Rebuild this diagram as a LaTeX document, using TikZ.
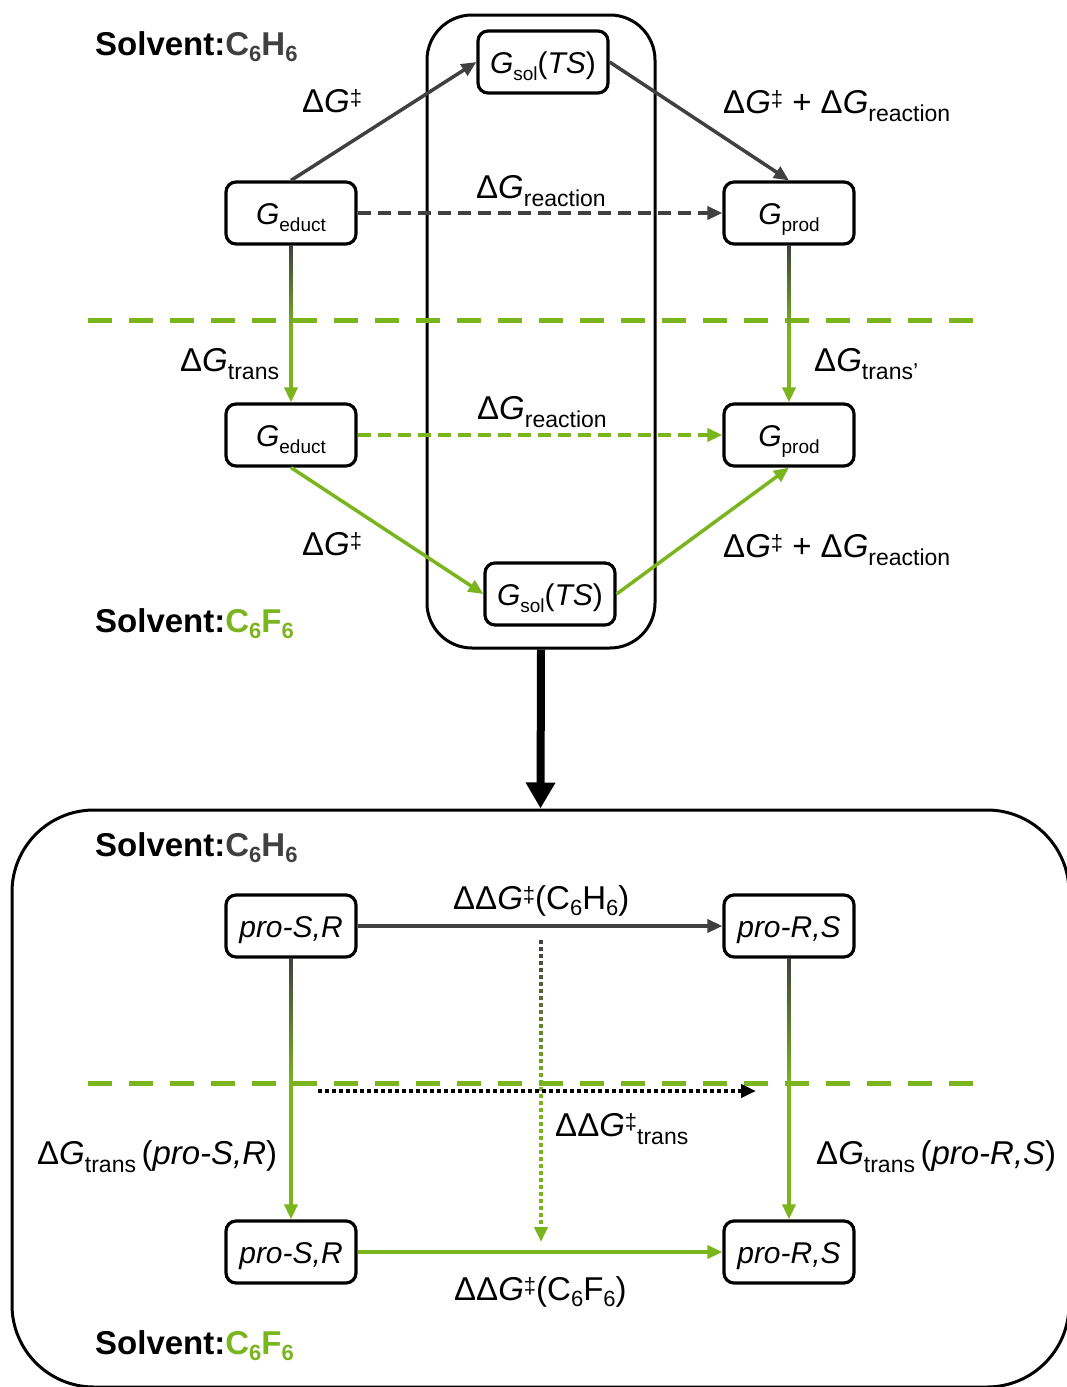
\documentclass[tikz,border=0pt]{standalone}
\usepackage{fontspec}
\setmainfont{Liberation Sans}
\usetikzlibrary{arrows.meta,calc}
\definecolor{dgray}{RGB}{64,64,64}
\definecolor{lgreen}{RGB}{122,181,29}
\newcommand{\Gi}{\textit{G}}
\newcommand{\lsub}[1]{\raisebox{-8pt}{\fontsize{23}{23}\selectfont #1}}
\newcommand{\bsub}[1]{\raisebox{-7pt}{\fontsize{19}{19}\selectfont #1}}
\newcommand{\ldag}{\raisebox{7pt}{\fontsize{22}{22}\selectfont ‡}}
\newcommand{\fsub}[1]{\raisebox{-6pt}{\fontsize{22}{22}\selectfont #1}}
\newcommand{\ssub}[1]{\raisebox{-6pt}{\fontsize{22}{22}\selectfont\bfseries #1}}
\tikzset{
  box/.style={draw=black, line width=3.2pt, rounded corners=10pt, minimum width=130pt, minimum height=62pt, inner sep=0pt, text height=26pt, text depth=4pt, font=\fontsize{30}{36}\selectfont, fill=white},
  lab/.style={inner sep=0pt, anchor=base west, font=\fontsize{33}{40}\selectfont},
  solv/.style={inner sep=0pt, anchor=base west, font=\fontsize{33}{40}\selectfont\bfseries},
  tipA/.style={-{Triangle[length=15pt,width=13pt]}},
  darr/.style={draw=dgray, color=dgray, line width=3.5pt, tipA},
  garr/.style={draw=lgreen, color=lgreen, line width=3.5pt, tipA},
  dsh/.style={dash pattern=on 13pt off 7pt},
  gdash/.style={draw=lgreen, line width=5pt, dash pattern=on 24pt off 17pt},
  dotl/.style={line width=4pt, dash pattern=on 3.5pt off 3.5pt},
  frm/.style={draw=black, line width=3pt, inner sep=0pt},
}
\begin{document}
\begin{tikzpicture}[x=1pt,y=-1pt]
\useasboundingbox (0,0) rectangle (1067,1387);
% frames
\node[frm, rounded corners=45pt, minimum width=228pt, minimum height=633pt] (frame) at (541,331.5) {};
\node[frm, rounded corners=82pt, minimum width=1057pt, minimum height=577pt] (bigframe) at (540.5,1098.5) {};
\draw[line width=8pt, -{Triangle[length=26pt,width=28pt]}] (frame.south) -- (bigframe.north);
% solvent separators
\coordinate (dl1) at (88,320); \coordinate (dr1) at (978,320);
\coordinate (dl2) at (88,1083); \coordinate (dr2) at (978,1083);
\draw[gdash] (dl1) -- (dr1);
\draw[gdash] (dl2) -- (dr2);
% upper nodes
\node[box] (ts1) at (543,62) {\Gi\bsub{sol}(\textit{TS})};
\node[box] (e1) at (291,213) {\Gi\bsub{educt}};
\node[box] (p1) at (789,213) {\Gi\bsub{prod}};
\node[box] (e2) at (291,435) {\Gi\bsub{educt}};
\node[box] (p2) at (789,435) {\Gi\bsub{prod}};
\node[box] (ts2) at (550,594) {\Gi\bsub{sol}(\textit{TS})};
% upper connectors
\draw[darr] (e1.north) -- (ts1.west);
\draw[darr] (ts1.east) -- (p1.north);
\draw[darr, dsh] (e1) -- (p1);
\draw[garr] (e1) -- (e2);
\shade[top color=dgray, bottom color=lgreen] ($(e1.south)+(-1.75,0)$) rectangle ($(e1.south)+(1.75,85)$);
\draw[garr] (p1) -- (p2);
\shade[top color=dgray, bottom color=lgreen] ($(p1.south)+(-1.75,0)$) rectangle ($(p1.south)+(1.75,85)$);
\draw[garr, dsh] (e2) -- (p2);
\draw[garr] (e2.south) -- (ts2.west);
\draw[garr] (ts2.east) -- (p2.south);
% upper labels
\node[solv] (s1) at (95,55) {Solvent:\textcolor{dgray}{C\ssub{6}H\ssub{6}}};
\node[solv] (s2) at (95,632) {Solvent:\textcolor{lgreen}{C\ssub{6}F\ssub{6}}};
\node[lab] (l1) at (302,112) {Δ\Gi\ldag};
\node[lab] (l2) at (723,113) {Δ\Gi\ldag{} + Δ\Gi\lsub{reaction}};
\node[lab] (l3) at (476,198) {Δ\Gi\lsub{reaction}};
\node[lab] (l4) at (180,371) {Δ\Gi\lsub{trans}};
\node[lab] (l5) at (477,419) {Δ\Gi\lsub{reaction}};
\node[lab] (l6) at (814,371) {Δ\Gi\lsub{trans’}};
\node[lab] (l7) at (302,555) {Δ\Gi\ldag};
\node[lab] (l8) at (723,557) {Δ\Gi\ldag{} + Δ\Gi\lsub{reaction}};
% lower nodes
\node[box] (sr1) at (291,926) {\textit{pro-S,R}};
\node[box] (rs1) at (789,926) {\textit{pro-R,S}};
\node[box] (sr2) at (291,1252) {\textit{pro-S,R}};
\node[box] (rs2) at (789,1252) {\textit{pro-R,S}};
% lower connectors
\draw[darr] (sr1) -- (rs1);
\draw[garr] (sr2) -- (rs2);
\draw[garr] (sr1) -- (sr2);
\shade[top color=dgray, bottom color=lgreen] ($(sr1.south)+(-1.75,0)$) rectangle ($(sr1.south)+(1.75,125)$);
\draw[garr] (rs1) -- (rs2);
\shade[top color=dgray, bottom color=lgreen] ($(rs1.south)+(-1.75,0)$) rectangle ($(rs1.south)+(1.75,125)$);
\coordinate (vt) at (541,940); \coordinate (vb) at (541,1242);
\draw[dotl, lgreen, tipA] (vt) -- (vb);
\foreach \i in {0,...,20} {
  \pgfmathsetmacro{\op}{1-\i/21}
  \draw[dotl, dgray, opacity=\op] ($(vt)+(0,7*\i)$) -- ++(0,7);
}
\coordinate (hl) at (318,1091); \coordinate (hr) at (756,1091);
\draw[dotl, black, tipA] (hl) -- (hr);
% lower labels
\node[solv] (s3) at (95,856) {Solvent:\textcolor{dgray}{C\ssub{6}H\ssub{6}}};
\node[solv] (s4) at (95,1354) {Solvent:\textcolor{lgreen}{C\ssub{6}F\ssub{6}}};
\node[lab] (b1) at (453,909) {ΔΔ\Gi\ldag(C\fsub{6}H\fsub{6})};
\node[lab] (b2) at (454,1300) {ΔΔ\Gi\ldag(C\fsub{6}F\fsub{6})};
\node[lab] (b3) at (555,1136) {ΔΔ\Gi\ldag\lsub{trans}};
\node[lab] (b4) at (37,1164) {Δ\Gi\lsub{trans}\,(\textit{pro-S,R})};
\node[lab] (b5) at (816,1164) {Δ\Gi\lsub{trans}\,(\textit{pro-R,S})};
\end{tikzpicture}
\end{document}
